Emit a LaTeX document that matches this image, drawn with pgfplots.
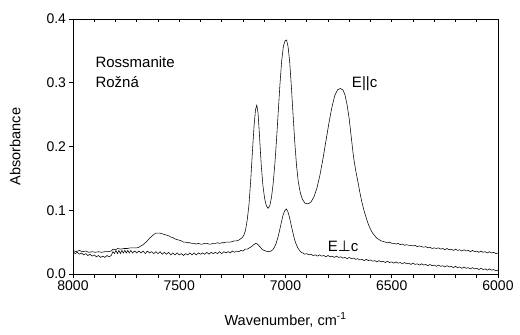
\documentclass[border=0pt]{standalone}
\usepackage{pgfplots}
\pgfplotsset{compat=1.18}
\usepackage{fontspec}
\setmainfont{Liberation Sans}
\newfontfamily\symfont{DejaVu Sans}

\begin{document}
\begin{tikzpicture}
\path[use as bounding box] (-73bp,-61bp) rectangle (447bp,274bp);
\begin{axis}[
  scale only axis,
  width=425bp, height=255bp,
  x dir=reverse,
  xmin=6000, xmax=8000,
  ymin=0, ymax=0.4,
  xtick={6000,6500,7000,7500,8000},
  minor x tick num=4,
  ytick={0,0.1,0.2,0.3,0.4},
  xtick pos=left, ytick pos=left,
  tick align=outside,
  major tick length=3.5bp, minor tick length=3.5bp,
  axis line style={line width=0.9pt},
  every tick/.style={line width=0.7pt, black},
  /pgf/number format/assume math mode=true,
  /pgf/number format/1000 sep={},
  yticklabel style={/pgf/number format/fixed,/pgf/number format/fixed zerofill,/pgf/number format/precision=1, font=\fontsize{14bp}{16bp}\selectfont},
  xticklabel style={font=\fontsize{14bp}{16bp}\selectfont},
  xlabel={Wavenumber, cm\textsuperscript{-1}},
  ylabel={Absorbance},
  label style={font=\fontsize{14.5bp}{17bp}\selectfont},
  xlabel style={at={(axis description cs:0.5,-0.18)},anchor=center},
  ylabel style={at={(axis description cs:-0.136,0.5)},anchor=center},
  clip=true,
]
\addplot[black, line width=0.55pt] coordinates {
(8000,0.037) (7985,0.035) (7970,0.037) (7955,0.035) (7940,0.036) (7925,0.034) (7910,0.035) (7895,0.034) (7880,0.035) (7865,0.034) (7850,0.035) (7835,0.035) (7820,0.036) (7812,0.039) (7800,0.038) (7790,0.040) (7775,0.039) (7760,0.040) (7745,0.040) (7730,0.041) (7715,0.041) (7700,0.041) (7690,0.042) (7680,0.044) (7670,0.046) (7660,0.049) (7650,0.052) (7640,0.056) (7630,0.059) (7620,0.062) (7610,0.064) (7600,0.064) (7590,0.064) (7580,0.063) (7570,0.062) (7560,0.061) (7550,0.060) (7540,0.058) (7530,0.057) (7520,0.055) (7510,0.054) (7500,0.053) (7490,0.052) (7480,0.050) (7470,0.050) (7460,0.049) (7450,0.049) (7440,0.048) (7430,0.048) (7420,0.047) (7410,0.048) (7400,0.047) (7390,0.047) (7380,0.048) (7370,0.048) (7360,0.047) (7350,0.047) (7340,0.048) (7330,0.048) (7320,0.049) (7310,0.048) (7300,0.049) (7290,0.049) (7280,0.050) (7270,0.050) (7260,0.050) (7250,0.051) (7240,0.052) (7230,0.052) (7220,0.053) (7212,0.055) (7204,0.057) (7196,0.061) (7188,0.069) (7180,0.085) (7172,0.108) (7164,0.145) (7156,0.190) (7148,0.232) (7141,0.258) (7135,0.265) (7129,0.252) (7122,0.215) (7114,0.170) (7106,0.138) (7098,0.118) (7090,0.107) (7082,0.103) (7074,0.107) (7066,0.120) (7058,0.142) (7050,0.173) (7042,0.212) (7034,0.255) (7026,0.298) (7018,0.334) (7010,0.357) (7002,0.366) (6995,0.367) (6988,0.357) (6980,0.332) (6972,0.292) (6964,0.248) (6956,0.205) (6948,0.170) (6940,0.145) (6930,0.127) (6920,0.117) (6908,0.111) (6894,0.110) (6880,0.113) (6866,0.121) (6852,0.135) (6838,0.155) (6824,0.180) (6810,0.208) (6796,0.236) (6782,0.261) (6768,0.280) (6755,0.289) (6742,0.291) (6730,0.289) (6720,0.281) (6710,0.265) (6700,0.243) (6690,0.213) (6680,0.184) (6670,0.163) (6660,0.146) (6650,0.128) (6640,0.112) (6630,0.099) (6620,0.088) (6610,0.078) (6600,0.070) (6590,0.064) (6580,0.060) (6570,0.056) (6560,0.054) (6550,0.052) (6540,0.051) (6530,0.050) (6520,0.049) (6510,0.050) (6500,0.048) (6490,0.048) (6480,0.047) (6470,0.048) (6460,0.046) (6450,0.047) (6440,0.045) (6430,0.046) (6420,0.045) (6410,0.045) (6400,0.044) (6390,0.045) (6380,0.043) (6370,0.044) (6360,0.043) (6350,0.042) (6340,0.043) (6330,0.041) (6320,0.042) (6310,0.040) (6300,0.041) (6290,0.040) (6280,0.041) (6270,0.039) (6260,0.040) (6250,0.038) (6240,0.040) (6230,0.038) (6220,0.039) (6210,0.037) (6200,0.039) (6190,0.037) (6180,0.038) (6170,0.036) (6160,0.038) (6150,0.036) (6140,0.037) (6130,0.035) (6120,0.037) (6110,0.035) (6100,0.036) (6090,0.034) (6080,0.036) (6070,0.034) (6060,0.035) (6050,0.033) (6040,0.035) (6030,0.033) (6020,0.034) (6010,0.032) (6000,0.033)
};
\addplot[black, line width=0.55pt] coordinates {
(8000,0.035) (7990,0.032) (7980,0.034) (7970,0.031) (7960,0.033) (7950,0.030) (7940,0.032) (7930,0.029) (7920,0.031) (7910,0.028) (7900,0.030) (7890,0.027) (7880,0.029) (7870,0.026) (7860,0.028) (7850,0.026) (7840,0.029) (7830,0.027) (7820,0.029) (7812,0.035) (7805,0.032) (7798,0.037) (7791,0.032) (7784,0.037) (7777,0.032) (7770,0.037) (7763,0.033) (7756,0.037) (7749,0.033) (7742,0.037) (7735,0.033) (7728,0.037) (7720,0.033) (7710,0.036) (7700,0.033) (7690,0.036) (7680,0.033) (7670,0.036) (7660,0.032) (7650,0.036) (7640,0.033) (7630,0.035) (7620,0.032) (7610,0.035) (7600,0.032) (7590,0.035) (7580,0.031) (7570,0.034) (7560,0.031) (7550,0.034) (7540,0.030) (7530,0.033) (7520,0.030) (7510,0.033) (7500,0.030) (7490,0.032) (7480,0.029) (7470,0.032) (7460,0.030) (7450,0.033) (7440,0.030) (7430,0.033) (7420,0.030) (7410,0.033) (7400,0.031) (7390,0.033) (7380,0.031) (7370,0.034) (7360,0.031) (7350,0.034) (7340,0.032) (7330,0.034) (7320,0.032) (7310,0.035) (7300,0.032) (7290,0.035) (7280,0.033) (7270,0.035) (7260,0.033) (7250,0.036) (7240,0.034) (7230,0.036) (7220,0.035) (7210,0.037) (7200,0.036) (7190,0.039) (7180,0.039) (7170,0.041) (7160,0.043) (7150,0.046) (7140,0.048) (7132,0.047) (7124,0.044) (7116,0.041) (7108,0.038) (7100,0.037) (7092,0.036) (7084,0.035) (7076,0.035) (7068,0.036) (7060,0.038) (7052,0.042) (7044,0.048) (7036,0.057) (7028,0.068) (7020,0.080) (7012,0.092) (7004,0.099) (6996,0.102) (6989,0.098) (6982,0.090) (6974,0.078) (6966,0.066) (6958,0.055) (6950,0.047) (6942,0.041) (6934,0.037) (6926,0.034) (6918,0.033) (6910,0.031) (6900,0.032) (6890,0.030) (6880,0.031) (6870,0.029) (6860,0.030) (6850,0.028) (6840,0.030) (6830,0.028) (6820,0.029) (6810,0.027) (6800,0.029) (6790,0.027) (6780,0.028) (6770,0.026) (6760,0.028) (6750,0.026) (6740,0.027) (6730,0.025) (6720,0.026) (6710,0.024) (6700,0.026) (6690,0.024) (6680,0.025) (6670,0.023) (6660,0.024) (6650,0.022) (6640,0.023) (6630,0.021) (6620,0.023) (6610,0.021) (6600,0.022) (6590,0.020) (6580,0.021) (6570,0.019) (6560,0.021) (6550,0.019) (6540,0.020) (6530,0.018) (6520,0.020) (6510,0.018) (6500,0.019) (6490,0.017) (6480,0.019) (6470,0.017) (6460,0.018) (6450,0.016) (6440,0.018) (6430,0.016) (6420,0.017) (6410,0.015) (6400,0.017) (6390,0.015) (6380,0.016) (6370,0.014) (6360,0.016) (6350,0.014) (6340,0.015) (6330,0.013) (6320,0.015) (6310,0.013) (6300,0.014) (6290,0.012) (6280,0.014) (6270,0.012) (6260,0.013) (6250,0.011) (6240,0.013) (6230,0.011) (6220,0.012) (6210,0.010) (6200,0.012) (6190,0.010) (6180,0.011) (6170,0.009) (6160,0.011) (6150,0.009) (6140,0.010) (6130,0.008) (6120,0.010) (6110,0.008) (6100,0.009) (6090,0.007) (6080,0.009) (6070,0.007) (6060,0.008) (6050,0.006) (6040,0.008) (6030,0.006) (6020,0.007) (6010,0.005) (6000,0.006)
};
\node[anchor=west, font=\fontsize{15bp}{17bp}\selectfont, inner sep=0pt] at (axis cs:7895,0.333) {Rossmanite};
\node[anchor=west, font=\fontsize{15bp}{17bp}\selectfont, inner sep=0pt] at (axis cs:7895,0.301) {Rožná};
\node[anchor=west, font=\fontsize{15bp}{17bp}\selectfont, inner sep=0pt] at (axis cs:6688,0.298) {E||c};
\node[anchor=west, font=\fontsize{15bp}{17bp}\selectfont, inner sep=0pt] at (axis cs:6802,0.044) {E{\symfont ⊥}c};
\end{axis}
\begin{axis}[
  scale only axis,
  width=425bp, height=255bp,
  x dir=reverse,
  xmin=6000, xmax=8000,
  ymin=0, ymax=0.4,
  xtick={6000,6500,7000,7500,8000},
  minor x tick num=4,
  axis x line*=top,
  axis y line=none,
  tick align=inside,
  xticklabels={},
  major tick length=3.5bp, minor tick length=3.5bp,
  axis line style={line width=0.9pt, -},
  every tick/.style={line width=0.7pt, black},
]
\end{axis}
\end{tikzpicture}
\end{document}
